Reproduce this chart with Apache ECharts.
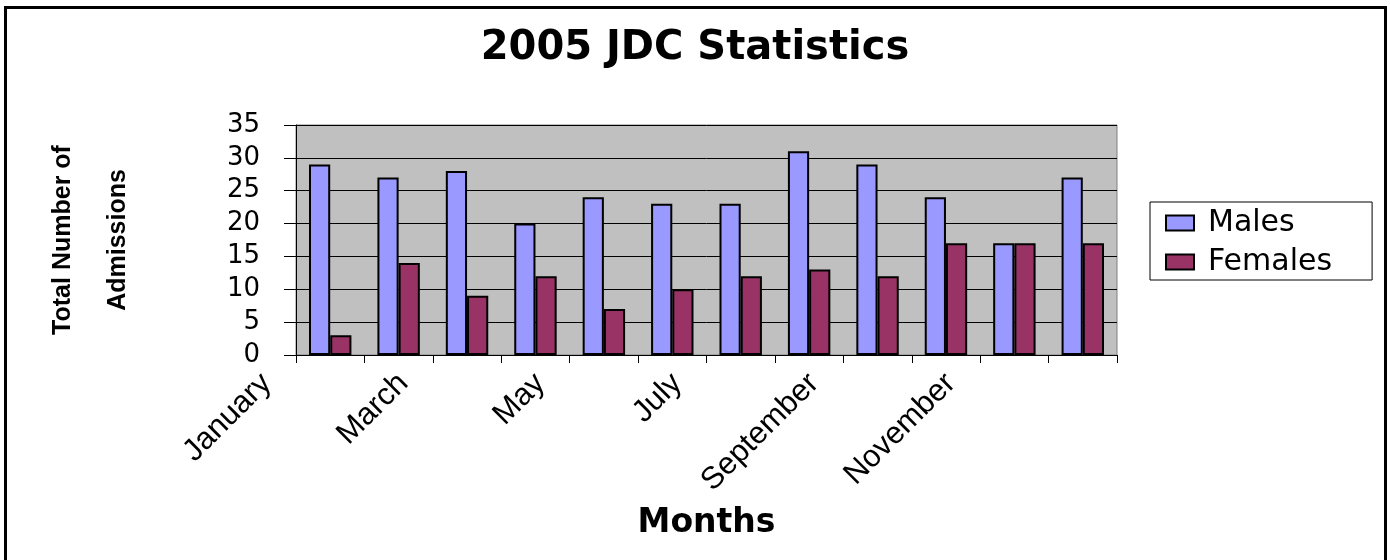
<!DOCTYPE html>
<html>
<head>
<meta charset="utf-8">
<title>2005 JDC Statistics</title>
<script src="https://cdn.jsdelivr.net/npm/echarts@6/dist/echarts.min.js"></script>
<style>
  html, body { margin: 0; padding: 0; background: #fff; }
  #main { width: 1390px; height: 560px; }
</style>
</head>
<body>
<div id="main"></div>
<script>
// 数据
var months = ['January', 'February', 'March', 'April', 'May', 'June',
  'July', 'August', 'September', 'October', 'November', 'December'];
var males = [29, 27, 28, 20, 24, 23, 23, 31, 29, 24, 17, 27];
var females = [3, 14, 9, 12, 7, 10, 12, 13, 12, 17, 17, 17];
var yTicks = { min: 0, max: 35, step: 5 };

var myChart = echarts.init(document.getElementById('main'));
var option = {
  backgroundColor: '#fff',
  animation: false,
  title: {
    text: '2005 JDC Statistics',
    left: 'center',
    top: 24,
    textStyle: { fontFamily: 'DejaVu Sans', fontWeight: 'bold', fontSize: 40, color: '#000' }
  },
  graphic: [
    {
      type: 'rect',
      shape: { x: 5.5, y: 7.5, width: 1380, height: 600 },
      style: { fill: 'none', stroke: '#000', lineWidth: 3 },
      silent: true
    }
  ],
  legend: {
    data: ['Males', 'Females'],
    orient: 'vertical',
    left: 1150,
    top: 202,
    padding: [6, 40, 3, 15],
    borderColor: '#000',
    borderWidth: 1,
    itemWidth: 28,
    itemHeight: 15,
    itemGap: 9,
    icon: 'rect',
    textStyle: { fontFamily: 'DejaVu Sans', fontSize: 30, color: '#000', lineHeight: 30, padding: [0, 0, 0, 9] }
  },
  grid: {
    left: 296,
    right: 273,
    top: 125,
    bottom: 205,
    show: true,
    backgroundColor: '#C0C0C0',
    borderColor: '#808080',
    borderWidth: 1
  },
  xAxis: {
    type: 'category',
    data: months,
    name: 'Months',
    nameLocation: 'middle',
    nameGap: 152,
    nameTextStyle: { fontFamily: 'DejaVu Sans', fontWeight: 'bold', fontSize: 33, color: '#000' },
    axisLine: { lineStyle: { color: '#000', width: 1 } },
    axisTick: { show: true, interval: 0, length: 8, lineStyle: { color: '#000' } },
    axisLabel: {
      interval: 1,
      rotate: 45,
      margin: -40,
      padding: [0, 90, 0, 0],
      fontFamily: 'Liberation Sans',
      fontSize: 31,
      color: '#000'
    }
  },
  yAxis: {
    type: 'value',
    min: yTicks.min,
    max: yTicks.max,
    interval: yTicks.step,
    name: 'Total Number of\nAdmissions',
    nameLocation: 'middle',
    nameRotate: 90,
    nameGap: 150,
    nameTextStyle: { fontFamily: 'Liberation Sans', fontWeight: 'bold', fontSize: 25, color: '#000', lineHeight: 55 },
    axisLine: { show: true, lineStyle: { color: '#000', width: 1 } },
    axisTick: { show: true, length: 12, lineStyle: { color: '#000' } },
    axisLabel: { margin: 36, fontFamily: 'DejaVu Sans', fontSize: 26, color: '#000' },
    splitLine: { show: true, lineStyle: { color: '#000', width: 1 } }
  },
  series: [
    {
      name: 'Males',
      type: 'bar',
      data: males,
      barGap: '0%',
      barCategoryGap: '38%',
      itemStyle: { color: '#9999FF', borderColor: '#000', borderWidth: 2 }
    },
    {
      name: 'Females',
      type: 'bar',
      data: females,
      itemStyle: { color: '#993366', borderColor: '#000', borderWidth: 2 }
    }
  ]
};
myChart.setOption(option);
</script>
</body>
</html>
